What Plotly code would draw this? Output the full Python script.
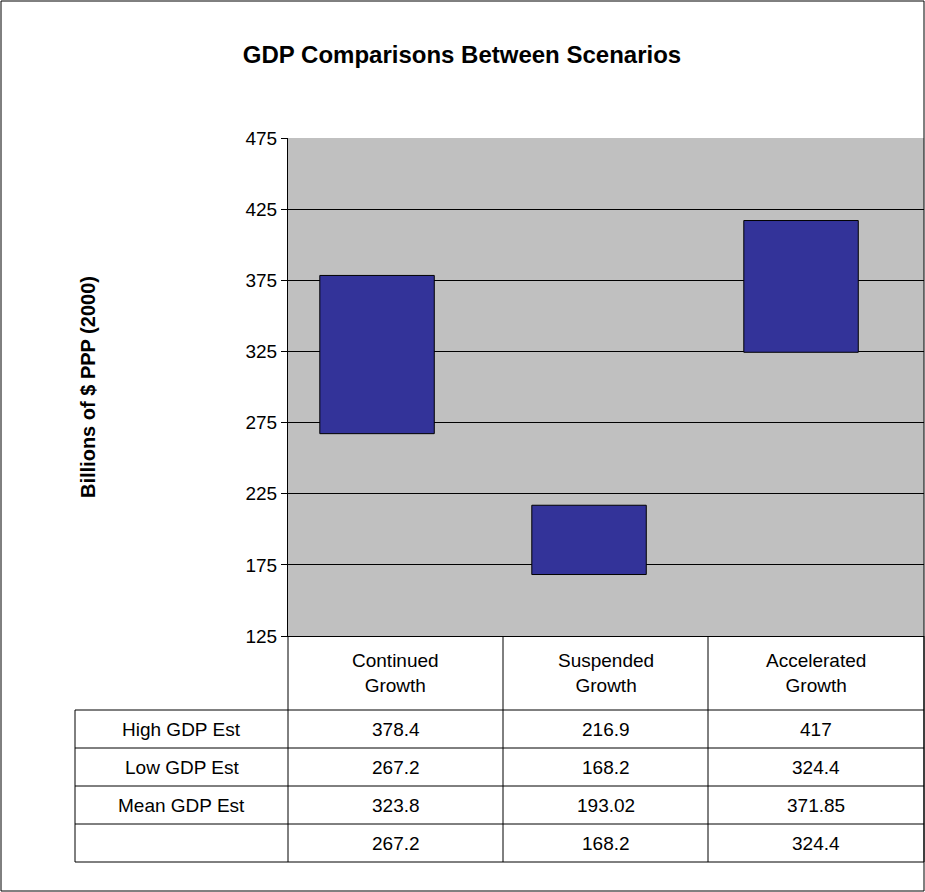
import plotly.graph_objects as go

categories = ["Continued<br>Growth", "Suspended<br>Growth", "Accelerated<br>Growth"]
high_est = [378.4, 216.9, 417]
low_est = [267.2, 168.2, 324.4]
mean_est = [323.8, 193.02, 371.85]
base_row = [267.2, 168.2, 324.4]
row_names = ["High GDP Est", "Low GDP Est", "Mean GDP Est", ""]
y_ticks = [125, 175, 225, 275, 325, 375, 425, 475]

W, H = 925, 892
def px(x): return x / W
def py(y): return 1 - y / H

fig = go.Figure()
fig.add_trace(go.Bar(
    x=[0, 1, 2], y=[h - l for h, l in zip(high_est, low_est)], base=low_est,
    marker=dict(color="#333399", line=dict(color="black", width=1)),
    width=0.54, hoverinfo="skip"))

shapes = []
line = dict(color="black", width=1)
# outer border
shapes.append(dict(type="rect", xref="paper", yref="paper", x0=px(1), x1=px(924), y0=py(891), y1=py(1), line=line))
# table lines
for yy in [710, 748, 786, 824, 862]:
    shapes.append(dict(type="line", xref="paper", yref="paper", x0=px(75), x1=px(924), y0=py(yy), y1=py(yy), line=line))
shapes.append(dict(type="line", xref="paper", yref="paper", x0=px(75), x1=px(75), y0=py(710), y1=py(862), line=line))
for xx in [288, 503, 708, 924]:
    shapes.append(dict(type="line", xref="paper", yref="paper", x0=px(xx), x1=px(xx), y0=py(636), y1=py(862), line=line))

col_c = [395.5, 605.5, 816]
ann = []
def cell(x, y, text, **kw):
    ann.append(dict(x=px(x), y=py(y), xref="paper", yref="paper", text=text, showarrow=False,
                    xanchor="center", yanchor="middle", font=dict(size=19, color="black"), **kw))

for c, cat in zip(col_c, categories):
    cell(c, 673, cat)
rows = [high_est, low_est, mean_est, base_row]
for i, (name, vals) in enumerate(zip(row_names, rows)):
    yc = 729 + 38 * i
    cell(181.5, yc, name)
    for c, v in zip(col_c, vals):
        cell(c, yc, str(v))
ann.append(dict(x=px(88), y=py(387), xref="paper", yref="paper", text="<b>Billions of $ PPP (2000)</b>",
                xanchor="center", yanchor="middle",
                textangle=-90, showarrow=False, font=dict(size=20, color="black")))

fig.update_layout(
    width=W, height=H, autosize=False,
    margin=dict(l=0, r=0, t=0, b=0),
    paper_bgcolor="white", plot_bgcolor="#c0c0c0",
    font=dict(family="Arial, Liberation Sans", color="black"),
    title=dict(text="<b>GDP Comparisons Between Scenarios</b>", x=px(462), y=py(55),
               xanchor="center", yanchor="middle", font=dict(size=24)),
    showlegend=False,
    xaxis=dict(domain=[px(288), px(924)], range=[-0.42, 2.58], showticklabels=False, showline=True,
               linecolor="black", ticks="", showgrid=False, zeroline=False, automargin=False),
    yaxis=dict(domain=[py(636), py(138)], range=[125, 475], tickvals=y_ticks, automargin=False,
               showgrid=True, gridcolor="black", gridwidth=1, showline=True, linecolor="black",
               ticks="outside", ticklen=6, tickcolor="black", tickfont=dict(size=19), zeroline=False),
    shapes=shapes, annotations=ann,
)
fig.write_html("out.html", config={"displayModeBar": False},
               post_script="document.body.style.margin='0';")
